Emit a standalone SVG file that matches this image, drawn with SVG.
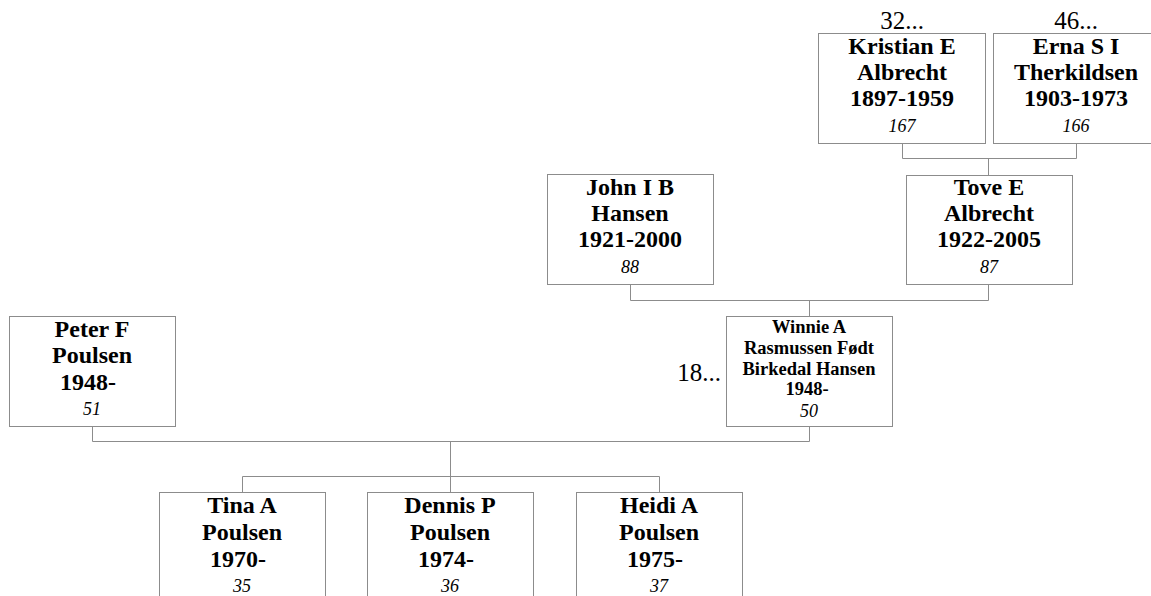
<svg xmlns="http://www.w3.org/2000/svg" width="1151" height="596" viewBox="0 0 1151 596">
<style>
.box{fill:#fff;stroke:#8c8c8c;stroke-width:1}
.ln{fill:none;stroke:#8c8c8c;stroke-width:1}
.nm{font-family:"Liberation Serif","Times New Roman",serif;font-weight:bold;font-size:24px;fill:#000;text-anchor:middle}
.sm{font-family:"Liberation Serif","Times New Roman",serif;font-weight:bold;font-size:18.5px;fill:#000;text-anchor:middle}
.id{font-family:"Liberation Serif","Times New Roman",serif;font-style:italic;font-size:18px;fill:#000;text-anchor:middle}
.lb{font-family:"Liberation Serif","Times New Roman",serif;font-size:25px;fill:#000}
</style>
<rect width="1151" height="596" fill="#fff"/>
<g id="connectors">
<path class="ln" d="M902.5 143V158.5H1076.5V143M988.5 158.5V175"/>
<path class="ln" d="M630.5 284V300.5H988.5V284M809.5 300.5V316"/>
<path class="ln" d="M92.5 426V441.5H809.5V426M450.5 441.5V476.5M242.5 492V476.5H659.5V492M450.5 476.5V492"/>
</g>
<g id="n167">
<rect class="box" x="818.5" y="33.5" width="167" height="110"/>
<text class="lb" x="902" y="29" text-anchor="middle">32...</text>
<text class="nm" x="902" y="54">Kristian E</text>
<text class="nm" x="902" y="80">Albrecht</text>
<text class="nm" x="902" y="106">1897-1959</text>
<text class="id" x="902" y="132">167</text>
</g>
<g id="n166">
<rect class="box" x="993.5" y="33.5" width="167" height="110"/>
<text class="lb" x="1076" y="29" text-anchor="middle">46...</text>
<text class="nm" x="1076" y="54">Erna S I</text>
<text class="nm" x="1076" y="80">Therkildsen</text>
<text class="nm" x="1076" y="106">1903-1973</text>
<text class="id" x="1076" y="132">166</text>
</g>
<g id="n88">
<rect class="box" x="547.5" y="174.5" width="166" height="110"/>
<text class="nm" x="630" y="195">John I B</text>
<text class="nm" x="630" y="221">Hansen</text>
<text class="nm" x="630" y="247">1921-2000</text>
<text class="id" x="630" y="273">88</text>
</g>
<g id="n87">
<rect class="box" x="906.5" y="175.5" width="166" height="109"/>
<text class="nm" x="989" y="195">Tove E</text>
<text class="nm" x="989" y="221">Albrecht</text>
<text class="nm" x="989" y="247">1922-2005</text>
<text class="id" x="989" y="273">87</text>
</g>
<g id="n51">
<rect class="box" x="9.5" y="316.5" width="166" height="110"/>
<text class="nm" x="92" y="337">Peter F</text>
<text class="nm" x="92" y="363">Poulsen</text>
<text class="nm" x="88" y="390">1948-</text>
<text class="id" x="92" y="415">51</text>
</g>
<g id="n50">
<rect class="box" x="726.5" y="316.5" width="166" height="110"/>
<text class="lb" x="721" y="381" text-anchor="end">18...</text>
<text class="sm" x="809" y="333">Winnie A</text>
<text class="sm" x="809" y="354">Rasmussen Født</text>
<text class="sm" x="809" y="375">Birkedal Hansen</text>
<text class="sm" x="807" y="395">1948-</text>
<text class="id" x="809" y="417">50</text>
</g>
<g id="n35">
<rect class="box" x="159.5" y="492.5" width="166" height="110"/>
<text class="nm" x="242" y="513">Tina A</text>
<text class="nm" x="242" y="540">Poulsen</text>
<text class="nm" x="238" y="567">1970-</text>
<text class="id" x="242" y="592">35</text>
</g>
<g id="n36">
<rect class="box" x="367.5" y="492.5" width="166" height="110"/>
<text class="nm" x="450" y="513">Dennis P</text>
<text class="nm" x="450" y="540">Poulsen</text>
<text class="nm" x="446" y="567">1974-</text>
<text class="id" x="450" y="592">36</text>
</g>
<g id="n37">
<rect class="box" x="576.5" y="492.5" width="166" height="110"/>
<text class="nm" x="659" y="513">Heidi A</text>
<text class="nm" x="659" y="540">Poulsen</text>
<text class="nm" x="655" y="567">1975-</text>
<text class="id" x="659" y="592">37</text>
</g>
</svg>
